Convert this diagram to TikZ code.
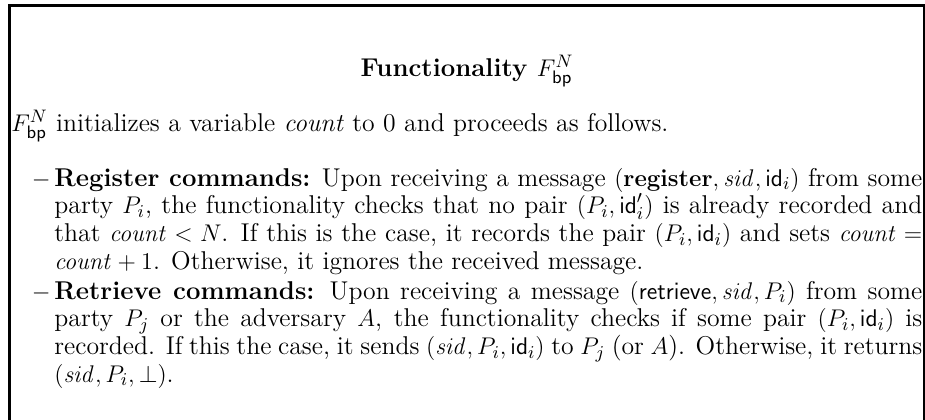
\documentclass[tikz,border=0pt]{standalone}
\usepackage{amsmath}
\usetikzlibrary{positioning}

\newcommand{\bodysize}{\fontsize{12.8}{13.8}\selectfont}
\newcommand{\itempar}[1]{\parbox[t]{431.8pt}{#1}}

\begin{document}
\begin{tikzpicture}[x=0.4975pt,y=-0.4975pt,
    frame/.style={line width=1.5pt},
    body/.style={inner sep=0pt,font=\bodysize},
    heading/.style={inner sep=0pt,font=\bodysize\bfseries},
    dashmark/.style={inner sep=0pt,font=\bodysize}]
\useasboundingbox (0,0) rectangle (925,420);
% open frame, cut off at the bottom
\coordinate (bl) at (9.5,430);
\coordinate (tr) at (924.2,5.5);
\coordinate (br) at (924.2,430);
\draw[frame] (bl) |- (tr) -- (br);

\node[heading,anchor=base] (title) at (467,76) {Functionality $F^{N}_{\mathsf{bp}}$};
\node[body,anchor=base west] (intro) at (11,131)
    {$F^{N}_{\mathsf{bp}}$ initializes a variable \emph{count} to 0 and proceeds as follows.};

\node[body,anchor=base west] (reg) at (54,186)
    {\itempar{\textbf{Register commands:} Upon receiving a message $(\mathbf{register},\mathit{sid},\mathsf{id}_i)$ from some\linebreak
    party $P_i$, the functionality checks that no pair $(P_i,\mathsf{id}'_i)$ is already recorded and\linebreak
    that $\mathit{count}<N$. If this is the case, it records the pair $(P_i,\mathsf{id}_i)$ and sets $\mathit{count}=$\linebreak
    $\mathit{count}+1$. Otherwise, it ignores the received message.}};
\node[dashmark,anchor=base east] (regdash) at ([xshift=-1.5pt]reg.base west) {$-$};

\node[body,anchor=base west] (ret) at (54,299)
    {\itempar{\textbf{Retrieve commands:} Upon receiving a message $(\mathsf{retrieve},\mathit{sid},P_i)$ from some\linebreak
    party $P_j$ or the adversary $A$, the functionality checks if some pair $(P_i,\mathsf{id}_i)$ is\linebreak
    recorded. If this the case, it sends $(\mathit{sid},P_i,\mathsf{id}_i)$ to $P_j$ (or $A$). Otherwise, it returns\linebreak
    $(\mathit{sid},P_i,\bot)$.}};
\node[dashmark,anchor=base east] (retdash) at ([xshift=-1.5pt]ret.base west) {$-$};
\end{tikzpicture}
\end{document}
